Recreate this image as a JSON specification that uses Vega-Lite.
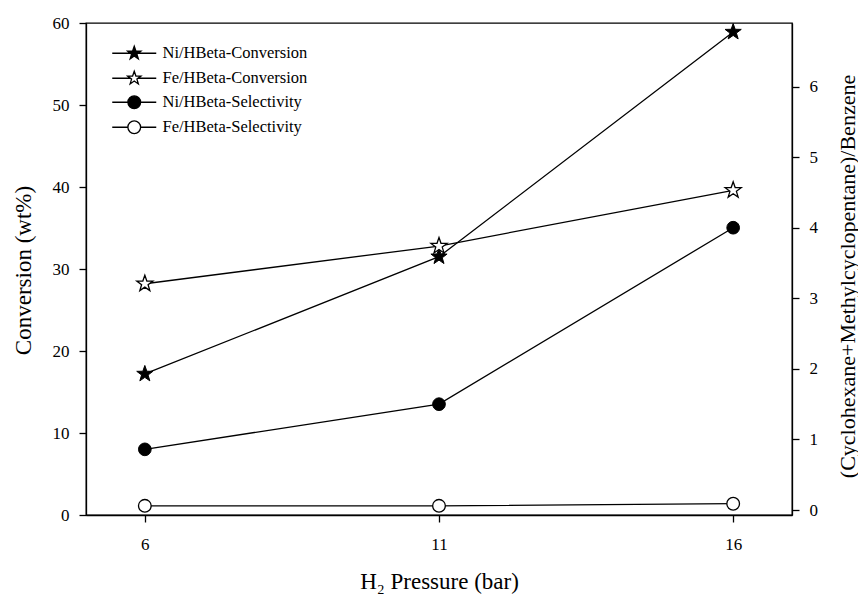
{
  "$schema": "https://vega.github.io/schema/vega-lite/v6.json",
  "autosize": {"type": "none"},
  "width": 706,
  "height": 492,
  "padding": {"left": 86, "top": 23, "right": 66, "bottom": 79},
  "background": "white",
  "config": {
    "font": "Liberation Serif",
    "view": {"stroke": "black", "strokeWidth": 1.3},
    "axis": {
      "labelFont": "Liberation Serif",
      "titleFont": "Liberation Serif",
      "labelColor": "black",
      "titleColor": "black",
      "domainColor": "black",
      "tickColor": "black",
      "domainWidth": 1.3,
      "tickWidth": 1.3,
      "tickSize": 7,
      "labelFontSize": 17,
      "titleFontSize": 23,
      "titleFontWeight": "normal",
      "grid": false,
      "labelPadding": 10
    }
  },
  "data": {
    "values": [
      {"pressure": 6, "series": "Ni/HBeta-Conversion", "value": 17.2},
      {"pressure": 11, "series": "Ni/HBeta-Conversion", "value": 31.5},
      {"pressure": 16, "series": "Ni/HBeta-Conversion", "value": 58.9},
      {"pressure": 6, "series": "Fe/HBeta-Conversion", "value": 28.2},
      {"pressure": 11, "series": "Fe/HBeta-Conversion", "value": 32.8},
      {"pressure": 16, "series": "Fe/HBeta-Conversion", "value": 39.6},
      {"pressure": 6, "series": "Ni/HBeta-Selectivity", "value": 0.86},
      {"pressure": 11, "series": "Ni/HBeta-Selectivity", "value": 1.5},
      {"pressure": 16, "series": "Ni/HBeta-Selectivity", "value": 4.0},
      {"pressure": 6, "series": "Fe/HBeta-Selectivity", "value": 0.06},
      {"pressure": 11, "series": "Fe/HBeta-Selectivity", "value": 0.06},
      {"pressure": 16, "series": "Fe/HBeta-Selectivity", "value": 0.09}
    ]
  },
  "encoding": {
    "x": {
      "field": "pressure",
      "type": "quantitative",
      "scale": {"domain": [5, 17], "nice": false, "zero": false},
      "axis": {
        "values": [6, 11, 16],
        "title": "H₂ Pressure (bar)",
        "labelPadding": 14,
        "titleBaseline": "alphabetic",
        "titleY": 73
      }
    }
  },
  "layer": [
    {
      "encoding": {
        "y": {
          "field": "value",
          "type": "quantitative",
          "scale": {"domain": [0, 60], "nice": false},
          "axis": {
            "orient": "left",
            "values": [0, 10, 20, 30, 40, 50, 60],
            "title": "Conversion (wt%)",
            "titleX": -63,
            "titleY": 247,
            "titleBaseline": "middle",
            "titleAlign": "center",
            "titleAngle": -90
          }
        }
      },
      "layer": [
        {
          "transform": [{"filter": {"field": "series", "oneOf": ["Ni/HBeta-Conversion", "Fe/HBeta-Conversion"]}}],
          "mark": {"type": "line", "color": "black", "strokeWidth": 1.3},
          "encoding": {"detail": {"field": "series", "type": "nominal"}}
        },
        {
          "transform": [{"filter": {"field": "series", "equal": "Ni/HBeta-Conversion"}}],
          "mark": {
            "type": "point",
            "shape": "M0,-1.7L0.4,-0.55L1.617,-0.525L0.647,0.21L0.999,1.375L0,0.68L-0.999,1.375L-0.647,0.21L-1.617,-0.525L-0.4,-0.55Z",
            "size": 100,
            "filled": true,
            "fill": "black",
            "stroke": "black",
            "strokeWidth": 1,
            "opacity": 1
          },
          "encoding": {}
        },
        {
          "transform": [{"filter": {"field": "series", "equal": "Fe/HBeta-Conversion"}}],
          "mark": {
            "type": "point",
            "shape": "M0,-1.7L0.4,-0.55L1.617,-0.525L0.647,0.21L0.999,1.375L0,0.68L-0.999,1.375L-0.647,0.21L-1.617,-0.525L-0.4,-0.55Z",
            "size": 100,
            "filled": true,
            "fill": "white",
            "stroke": "black",
            "strokeWidth": 1.3,
            "opacity": 1
          },
          "encoding": {}
        },
        {
          "mark": {
            "type": "point",
            "filled": true,
            "opacity": 0,
            "strokeWidth": 1.3,
            "size": 100
          },
          "encoding": {
            "shape": {
              "field": "series",
              "type": "nominal",
              "scale": {
                "domain": ["Ni/HBeta-Conversion", "Fe/HBeta-Conversion", "Ni/HBeta-Selectivity", "Fe/HBeta-Selectivity"],
                "range": [
                  "M-4.4,0H-0.76M0.76,0H4.4M0,-1.4L0.329,-0.453L1.331,-0.433L0.533,0.173L0.823,1.133L0,0.56L-0.823,1.133L-0.533,0.173L-1.331,-0.433L-0.329,-0.453Z",
                  "M-4.4,0H-0.76M0.76,0H4.4M0,-1.4L0.329,-0.453L1.331,-0.433L0.533,0.173L0.823,1.133L0,0.56L-0.823,1.133L-0.533,0.173L-1.331,-0.433L-0.329,-0.453Z",
                  "M-4.4,0H-1.27M1.27,0H4.4M-1.27,0A1.27,1.27,0,1,0,1.27,0A1.27,1.27,0,1,0,-1.27,0Z",
                  "M-4.4,0H-1.27M1.27,0H4.4M-1.27,0A1.27,1.27,0,1,0,1.27,0A1.27,1.27,0,1,0,-1.27,0Z"
                ]
              },
              "legend": {
                "orient": "none",
                "legendX": 40,
                "legendY": 22,
                "title": null,
                "padding": 0,
                "labelFont": "Liberation Serif",
                "labelFontSize": 16.5,
                "labelColor": "black",
                "labelOffset": 20,
                "symbolSize": 100,
                "rowPadding": 6,
                "symbolStrokeColor": "black",
                "symbolStrokeWidth": 1.3,
                "symbolOpacity": 1
              }
            },
            "fill": {
              "field": "series",
              "type": "nominal",
              "scale": {
                "domain": ["Ni/HBeta-Conversion", "Fe/HBeta-Conversion", "Ni/HBeta-Selectivity", "Fe/HBeta-Selectivity"],
                "range": ["black", "white", "black", "white"]
              }
            },
            "stroke": {
              "field": "series",
              "type": "nominal",
              "scale": {
                "domain": ["Ni/HBeta-Conversion", "Fe/HBeta-Conversion", "Ni/HBeta-Selectivity", "Fe/HBeta-Selectivity"],
                "range": ["black", "black", "black", "black"]
              }
            }
          }
        }
      ]
    },
    {
      "encoding": {
        "y": {
          "field": "value",
          "type": "quantitative",
          "scale": {"domain": [-0.07, 6.9], "nice": false, "zero": false},
          "axis": {
            "orient": "right",
            "values": [0, 1, 2, 3, 4, 5, 6],
            "title": "(Cyclohexane+Methylcyclopentane)/Benzene",
            "titleFontSize": 22,
            "titleX": 55,
            "titleY": 253,
            "titleBaseline": "middle",
            "titleAlign": "center",
            "titleAngle": -90
          }
        }
      },
      "layer": [
        {
          "transform": [{"filter": {"field": "series", "oneOf": ["Ni/HBeta-Selectivity", "Fe/HBeta-Selectivity"]}}],
          "mark": {"type": "line", "color": "black", "strokeWidth": 1.3},
          "encoding": {"detail": {"field": "series", "type": "nominal"}}
        },
        {
          "transform": [{"filter": {"field": "series", "equal": "Ni/HBeta-Selectivity"}}],
          "mark": {
            "type": "point",
            "shape": "circle",
            "size": 161,
            "filled": true,
            "fill": "black",
            "stroke": "black",
            "strokeWidth": 1,
            "opacity": 1
          },
          "encoding": {}
        },
        {
          "transform": [{"filter": {"field": "series", "equal": "Fe/HBeta-Selectivity"}}],
          "mark": {
            "type": "point",
            "shape": "circle",
            "size": 161,
            "filled": true,
            "fill": "white",
            "stroke": "black",
            "strokeWidth": 1.3,
            "opacity": 1
          },
          "encoding": {}
        }
      ]
    }
  ],
  "resolve": {"scale": {"y": "independent"}}
}
